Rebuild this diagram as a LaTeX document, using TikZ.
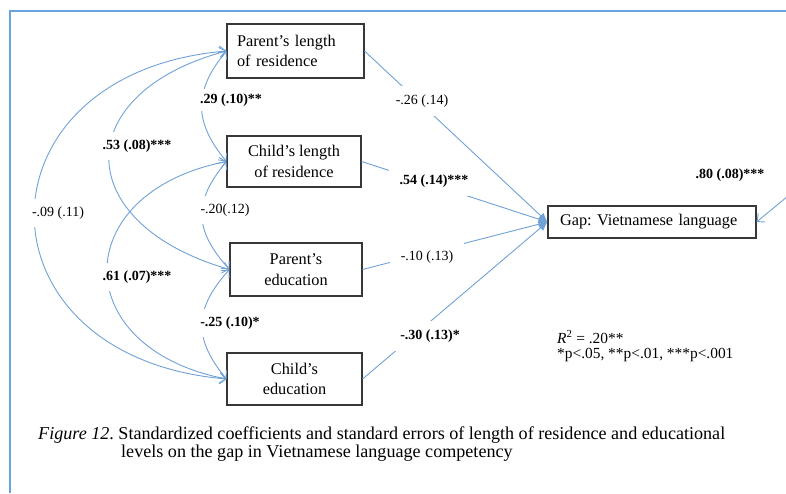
\documentclass[tikz,border=0pt]{standalone}
\usepackage{fontspec}
\setmainfont{Liberation Serif}
\usetikzlibrary{arrows.meta}
\definecolor{lineblue}{RGB}{112,162,216}
\definecolor{frameblue}{RGB}{104,164,224}
\definecolor{boxgray}{RGB}{55,55,55}
\frenchspacing
\begin{document}
\begin{tikzpicture}[x=1pt,y=1pt,
  box/.style={draw=boxgray, line width=1.1pt, inner sep=0pt, font=\fontsize{16.3}{20.5}\selectfont, align=center},
  lab/.style={fill=white, inner xsep=3pt, inner ysep=8pt, font=\fontsize{14}{16}\selectfont},
  blab/.style={lab, font=\fontsize{14}{16}\selectfont\bfseries},
  wide/.style={inner xsep=11pt, inner ysep=9pt},
  reg/.style={draw=lineblue, line width=0.9pt, -{Latex[length=9pt,width=8pt]}},
  errarrow/.style={draw=lineblue, line width=0.9pt, -{Straight Barb[length=6pt,width=11pt]}},
  cov/.style={draw=lineblue, line width=0.9pt, {Straight Barb[length=6pt,width=11pt]}-{Straight Barb[length=6pt,width=11pt]}},
]
\useasboundingbox (0,0) rectangle (786,493);
\fill[white] (0,0) rectangle (786,493);
\draw[frameblue, line width=1.2pt] (10,0) -- (10,482) -- (786,482);

% boxes
\node[box, minimum width=137pt, minimum height=54pt, text width=117pt, align=left] (pl) at (295.5,442) {Parent’s length\\of residence};
\node[box, minimum width=134pt, minimum height=51pt] (cl) at (294,331.5) {Child’s length\\of residence};
\node[box, minimum width=132pt, minimum height=53pt] (pe) at (296,223.5) {Parent’s\\education};
\node[box, minimum width=135pt, minimum height=52pt] (ce) at (294.5,114) {Child’s\\education};
\node[box, minimum width=208pt, minimum height=32pt, text width=184pt, align=left] (gap) at (652,271) {Gap: Vietnamese language};
\coordinate (err) at (788,297);

% regression paths
\draw[reg] (pl.east) -- (gap.west);
\draw[reg] (cl.east) -- (gap.west);
\draw[reg] (pe.east) -- (gap.west);
\draw[reg] (ce.east) -- (gap.west);
\draw[errarrow] (err) -- (gap.east);

% covariances
\draw[cov] (pl.west) .. controls +(-33,-40) and +(-33,40) .. (cl.west);
\draw[cov] (cl.west) .. controls +(-33,-40) and +(-36,40) .. (pe.west);
\draw[cov] (pe.west) .. controls +(-36,-40) and +(-33,40) .. (ce.west);
\draw[cov] (pl.west) .. controls +(-157,-42) and +(-160,46.5) .. (pe.west);
\draw[cov] (cl.west) .. controls +(-159,-31.5) and +(-159,31) .. (ce.west);
\draw[cov] (pl.west) .. controls +(-256,-22) and +(-256,22) .. (ce.west);

% labels
\node[lab, wide]  (l1) at (422,392) {-.26 (.14)};
\node[blab, wide] (l2) at (434,312) {.54 (.14)***};
\node[lab, wide]  (l3) at (427,236) {-.10 (.13)};
\node[blab, wide] (l4) at (430,157) {-.30 (.13)*};
\node[blab] (l5) at (730,318) {.80 (.08)***};
\node[blab, inner ysep=5pt] (c1) at (231,393) {.29 (.10)**};
\node[lab]  (c2) at (225,283) {-.20(.12)};
\node[blab] (c3) at (230,170) {-.25 (.10)*};
\node[blab] (c4) at (137,347) {.53 (.08)***};
\node[blab] (c5) at (137,216) {.61 (.07)***};
\node[lab]  (c6) at (58,280) {-.09 (.11)};

\node[anchor=base west, inner sep=0pt, font=\fontsize{15.4}{17}\selectfont] (r2) at (557,150) {\textit{R}\textsuperscript{2} = .20**};
\node[anchor=base west, inner sep=0pt, font=\fontsize{15.4}{17}\selectfont] (pv) at (557,135) {*p<.05, **p<.01, ***p<.001};

% caption
\node[anchor=base west, inner sep=0pt, font=\fontsize{18.1}{18}\selectfont] (cap1) at (38,54) {\textit{Figure 12}. Standardized coefficients and standard errors of length of residence and educational};
\node[anchor=base west, inner sep=0pt, font=\fontsize{18.1}{18}\selectfont] (cap2) at (121,35.7) {levels on the gap in Vietnamese language competency};
\end{tikzpicture}
\end{document}
